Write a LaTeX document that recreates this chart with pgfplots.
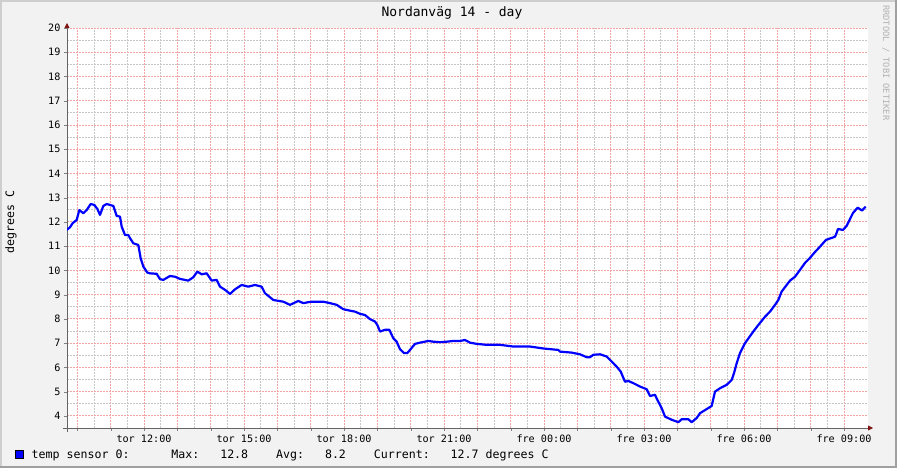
\documentclass[border=0pt]{standalone}
\usepackage{fontspec}
\setmainfont{DejaVu Sans Mono}
\usepackage{pgfplots}
\usepackage{pgfplotstable}
\pgfplotsset{compat=1.18}
\usetikzlibrary{arrows.meta}

\definecolor{rrdbg}{RGB}{242,242,242}
\definecolor{majgrid}{RGB}{243,165,165}
\definecolor{mingrid}{RGB}{198,198,198}
\definecolor{axisgray}{RGB}{100,100,100}
\definecolor{arrowred}{RGB}{128,20,20}
\definecolor{sensorblue}{RGB}{0,0,255}

% hours since tor 00:00, degrees C
\pgfplotstableread{
h v
9.68 11.67
9.78 11.78
9.86 11.95
9.98 12.08
10.06 12.49
10.18 12.36
10.28 12.49
10.40 12.74
10.51 12.70
10.60 12.54
10.68 12.29
10.78 12.66
10.88 12.74
10.98 12.70
11.08 12.66
11.18 12.25
11.28 12.22
11.33 11.81
11.43 11.46
11.53 11.46
11.58 11.33
11.68 11.12
11.83 11.05
11.90 10.50
11.98 10.16
12.10 9.91
12.18 9.88
12.38 9.86
12.48 9.64
12.58 9.61
12.78 9.77
12.93 9.74
13.08 9.65
13.33 9.58
13.48 9.72
13.60 9.95
13.73 9.84
13.88 9.88
14.03 9.58
14.18 9.61
14.28 9.33
14.43 9.20
14.58 9.03
14.73 9.22
14.93 9.40
15.13 9.33
15.33 9.40
15.53 9.33
15.63 9.06
15.88 8.78
16.18 8.71
16.38 8.58
16.63 8.74
16.78 8.65
16.93 8.69
17.03 8.71
17.38 8.71
17.58 8.65
17.78 8.58
17.98 8.40
18.18 8.34
18.33 8.30
18.48 8.21
18.63 8.16
18.78 7.99
18.93 7.89
19.00 7.75
19.08 7.48
19.23 7.55
19.36 7.55
19.48 7.20
19.58 7.06
19.68 6.75
19.80 6.59
19.90 6.59
19.98 6.72
20.13 6.97
20.28 7.02
20.53 7.09
20.68 7.06
20.88 7.04
21.08 7.06
21.28 7.09
21.48 7.09
21.63 7.13
21.78 7.02
21.98 6.97
22.28 6.93
22.68 6.93
23.08 6.86
23.58 6.86
23.98 6.78
24.43 6.72
24.48 6.65
24.83 6.61
25.08 6.54
25.28 6.42
25.38 6.42
25.48 6.52
25.68 6.54
25.88 6.45
26.03 6.24
26.18 6.03
26.30 5.83
26.43 5.41
26.53 5.44
26.68 5.35
26.88 5.21
27.08 5.10
27.18 4.82
27.33 4.87
27.40 4.66
27.53 4.32
27.63 3.97
27.83 3.84
28.03 3.74
28.13 3.86
28.33 3.86
28.43 3.74
28.58 3.91
28.68 4.11
28.88 4.28
29.03 4.41
29.13 5.00
29.28 5.14
29.48 5.28
29.63 5.48
29.70 5.76
29.78 6.17
29.88 6.59
30.03 7.00
30.28 7.48
30.43 7.75
30.63 8.09
30.78 8.30
30.93 8.58
31.03 8.78
31.13 9.13
31.28 9.40
31.38 9.58
31.53 9.74
31.68 10.02
31.83 10.31
31.98 10.52
32.13 10.76
32.28 10.98
32.46 11.26
32.73 11.39
32.78 11.55
32.82 11.71
32.97 11.67
33.08 11.84
33.18 12.12
33.27 12.37
33.41 12.59
33.54 12.47
33.65 12.63
}\sensordata

\begin{document}
\frenchspacing
\begin{tikzpicture}[x=1pt,y=1pt]
\useasboundingbox (0,0) rectangle (897,468);
\fill[rrdbg] (0,0) rectangle (897,468);
\draw[line width=2pt, color={rgb,255:red,206;green,206;blue,206}] (1,0) -- (1,467) -- (897,467);
\draw[line width=2pt, color={rgb,255:red,160;green,160;blue,160}] (0,1) -- (896,1) -- (896,468);

\begin{axis}[
  at={(67pt,40pt)}, anchor=south west,
  scale only axis, width=801pt, height=400pt,
  xmin=9.69, xmax=33.72, ymin=3.5, ymax=20,
  axis background/.style={fill=white},
  axis lines=left,
  axis line style={draw=axisgray, line width=0.8pt},
  x axis line style={shorten <=-4pt, shorten >=-5pt,
    -{Triangle[length=5pt,width=5pt,color=arrowred]}},
  y axis line style={shorten <=-4pt, shorten >=-5pt,
    -{Triangle[length=5pt,width=5pt,color=arrowred]}},
  xtick={10,...,33},
  xticklabels={,,tor 12:00,,,tor 15:00,,,tor 18:00,,,tor 21:00,,,fre 00:00,,,fre 03:00,,,fre 06:00,,,fre 09:00},
  ytick={4,...,20},
  minor x tick num=1, minor y tick num=1,
  grid=both,
  major grid style={draw=majgrid, line width=0.9pt, dash pattern=on 1.5pt off 1.5pt},
  minor grid style={draw=mingrid, line width=0.9pt, dash pattern=on 1.5pt off 1.5pt},
  tick align=outside, major tick length=3pt, minor tick length=0pt,
  /pgf/number format/assume math mode=true,
  tick label style={font=\fontsize{10.15}{12}\selectfont, text=black},
  title={Nordanväg 14 - day},
  title style={at={(axis description cs:0.4806,1.0143)}, anchor=base,
    font=\fontsize{13}{15}\selectfont},
  ylabel={degrees C},
  ylabel style={at={(axis description cs:-0.0699,0.515)}, anchor=center,
    font=\fontsize{11.6}{13}\selectfont},
  legend style={at={(axis description cs:-0.0649,-0.0663)}, anchor=west,
    draw=none, fill=none, inner sep=0pt,
    nodes={inner sep=0pt},
    font=\fontsize{11.6}{13}\selectfont,
    /tikz/every odd column/.append style={column sep=7.7pt}},
  legend cell align=left,
  legend image code/.code={
    \draw[fill=sensorblue, draw=black, line width=0.8pt] (0pt,-4pt) rectangle (8pt,4pt);},
]
\addplot[sensorblue, line width=2.2pt, line join=round] table[x=h, y=v] {\sensordata};
\addlegendentry{temp sensor 0:~~~~~~Max:~~~12.8~~~~Avg:~~~8.2~~~~Current:~~~12.7 degrees C}
\end{axis}

\node[rotate=-90, anchor=west, inner sep=0pt, text=black!30,
  font=\fontsize{8.7}{10}\selectfont] at (886,463) {RRDTOOL / TOBI OETIKER};
\end{tikzpicture}
\end{document}
